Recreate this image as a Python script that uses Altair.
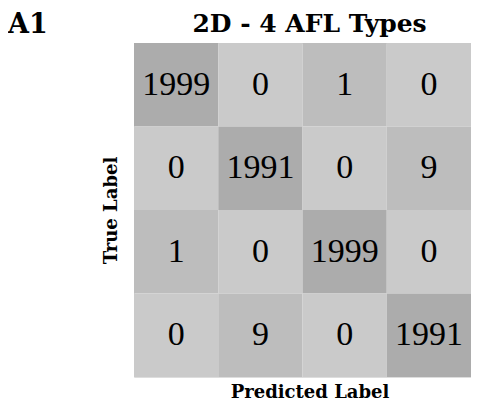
import altair as alt
import pandas as pd

classes = ["0", "1", "2", "3"]
row0 = [1999, 0, 1, 0]
row1 = [0, 1991, 0, 9]
row2 = [1, 0, 1999, 0]
row3 = [0, 9, 0, 1991]
matrix = [row0, row1, row2, row3]
title_text = "2D - 4 AFL Types"
panel_text = "A1"

records = []
for i, t in enumerate(classes):
    for j, p in enumerate(classes):
        records.append({"true": t, "pred": p, "value": matrix[i][j]})
df = pd.DataFrame(records)

serif = "DejaVu Serif"
num_font = "Liberation Serif"
W, H = 337, 334

base = alt.Chart(df).encode(
    x=alt.X("pred:O", sort=classes,
            scale=alt.Scale(paddingInner=0, paddingOuter=0),
            axis=alt.Axis(title="Predicted Label", labels=False, ticks=False, domain=False,
                          titleFont=serif, titleFontSize=18, titleFontWeight="bold",
                          titleColor="#000", titlePadding=6, titleX=W / 2 + 7)),
    y=alt.Y("true:O", sort=classes,
            scale=alt.Scale(paddingInner=0, paddingOuter=0),
            axis=alt.Axis(title="True Label", labels=False, ticks=False, domain=False,
                          titleFont=serif, titleFontSize=18, titleFontWeight="bold",
                          titleColor="#000", titlePadding=14)),
)

rects = base.mark_rect().encode(
    color=alt.Color("value:Q",
                    scale=alt.Scale(type="threshold", domain=[1, 100],
                                    range=["#cacaca", "#bdbdbd", "#acacac"]),
                    legend=None)
)

texts = base.mark_text(font=num_font, fontSize=34, color="#000", baseline="middle").encode(
    text="value:Q"
)

panel = alt.Chart(pd.DataFrame({"t": [panel_text]})).mark_text(
    font=serif, fontSize=27, fontWeight="bold", align="left", baseline="alphabetic", color="#000"
).encode(text="t:N", x=alt.value(-126), y=alt.value(-10))

title = alt.Chart(pd.DataFrame({"t": [title_text]})).mark_text(
    font=serif, fontSize=25, fontWeight="bold", align="center", baseline="alphabetic", color="#000"
).encode(text="t:N", x=alt.value(W / 2 + 7), y=alt.value(-11))

chart = alt.layer(rects, texts, panel, title).properties(
    width=W, height=H,
    autosize=alt.AutoSizeParams(type="none"),
    padding={"left": 126, "top": 35, "right": 0, "bottom": 30},
).configure_view(strokeWidth=0).configure(background="white")

chart.save("out.html", embed_options={"renderer": "svg", "actions": False})
